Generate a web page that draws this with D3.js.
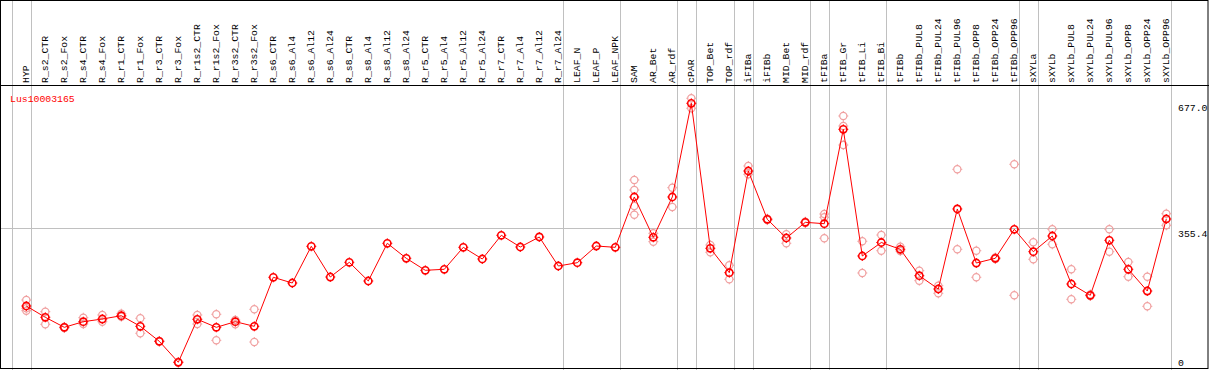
<!DOCTYPE html>
<html>
<head>
<meta charset="utf-8">
<script src="https://cdn.jsdelivr.net/npm/d3@7"></script>
<style>
  body { margin: 0; background: #fff; }
  svg { display: block; }
  text { font-family: "Liberation Mono", "DejaVu Sans Mono", monospace; font-size: 9.8px; }
</style>
</head>
<body>
<svg id="chart" width="1209" height="370"></svg>
<script>
// gene shown
var geneName = "Lus10003165"

// sample names, left to right
var samples = ["HYP", "R_s2_CTR", "R_s2_Fox", "R_s4_CTR", "R_s4_Fox", "R_r1_CTR", "R_r1_Fox",
  "R_r3_CTR", "R_r3_Fox", "R_r1s2_CTR", "R_r1s2_Fox", "R_r3s2_CTR", "R_r3s2_Fox",
  "R_s6_CTR", "R_s6_Al4", "R_s6_Al12", "R_s6_Al24", "R_s8_CTR", "R_s8_Al4", "R_s8_Al12",
  "R_s8_Al24", "R_r5_CTR", "R_r5_Al4", "R_r5_Al12", "R_r5_Al24", "R_r7_CTR", "R_r7_Al4",
  "R_r7_Al12", "R_r7_Al24", "LEAF_N", "LEAF_P", "LEAF_NPK", "SAM", "AR_Bet", "AR_rdf",
  "cPAR", "TOP_Bet", "TOP_rdf", "iFIBa", "iFIBb", "MID_Bet", "MID_rdf", "tFIBa", "tFIB_Gr",
  "tFIB_Li", "tFIB_Bi", "tFIBb", "tFIBb_PUL8", "tFIBb_PUL24", "tFIBb_PUL96", "tFIBb_OPP8",
  "tFIBb_OPP24", "tFIBb_OPP96", "sXYLa", "sXYLb", "sXYLb_PUL8", "sXYLb_PUL24",
  "sXYLb_PUL96", "sXYLb_OPP8", "sXYLb_OPP24", "sXYLb_OPP96"]

// mean expression per sample
var means = [157.2, 128.6, 103.2, 117.4, 124.2, 132.6, 105.7, 67.7, 14.5, 123.5, 103.2,
  117.4, 105.7, 230.0, 215.5, 308.6, 230.7, 268.0, 220.6, 316.2, 278.2, 247.7, 250.3,
  306.0, 276.4, 336.5, 306.8, 332.2, 258.6, 267.0, 309.3, 306.0, 433.6, 331.4, 433.6,
  671.2, 303.5, 241.6, 499.5, 377.0, 329.6, 369.4, 365.9, 605.2, 284.0, 318.2, 301.0,
  234.0, 200.3, 403.2, 266.2, 278.2, 351.7, 294.9, 334.7, 213.0, 184.3, 323.8, 250.3,
  195.2, 377.8]

// replicate values per sample
var replicates = [
  [172.4, 151.4, 145.3], [142.8, 110.8], [104.0, 101.4], [127.5, 111.6], [134.4, 117.4],
  [137.6, 130.1], [126.0, 88.0], [68.5, 67.0], [15.2, 13.7], [134.4, 111.6],
  [136.2, 70.2], [121.7, 110.8], [148.8, 65.9],
  [], [], [], [], [], [], [], [], [], [], [], [], [], [], [], [], [], [], [],
  [476.7, 451.3, 410.8, 388.7], [341.5, 320.3], [457.2, 408.2], [683.9, 658.5],
  [311.9, 293.4], [260.4, 224.9], [512.2, 491.1], [378.5, 375.0], [339.0, 316.2],
  [370.9, 367.7], [390.5, 382.1, 328.9], [639.0, 613.6, 565.4], [321.3, 240.9],
  [337.2, 297.4], [307.6, 296.7], [246.7, 221.4], [208.7, 189.4], [503.8, 301.0],
  [297.4, 230.0], [280.2, 276.4], [516.5, 184.3], [318.7, 275.6], [351.7, 313.7],
  [250.3, 174.2], [186.4, 182.6], [351.7, 294.9], [268.8, 231.5], [231.5, 156.4],
  [391.2, 361.8]]

// last sample of each group (a grey separator follows it)
var groupEnds = ["HYP", "R_r7_Al24", "LEAF_NPK", "AR_rdf", "cPAR", "TOP_rdf", "iFIBa",
  "MID_rdf", "tFIBa", "tFIB_Bi", "tFIBb_OPP96", "sXYLa", "sXYLb_OPP96"]

// right axis labels
var yTicks = [0, 355.4, 677.0]
var yTickLabels = ["0", "355.4", "677.0"]

var W = 1209, H = 370
var headerBottom = 85, plotBottom = 368.5, plotRight = 1170
var red = "#ff0000", pink = "#f0a0a0", grey = "#c0c0c0"

var svg = d3.select("#chart")

var x = d3.scalePoint().domain(samples).range([26.3, 1166.3])
var y = d3.scaleLinear().domain([0, 677]).range([368, 101])
var step = x.step()

// grey separators, including one before the first sample
var sepX = [x(samples[0]) - step + 4.5].concat(groupEnds.map(function(s) { return x(s) + 4.5 }))
svg.selectAll(".sep")
  .data(sepX)
  .enter().append("line")
  .attr("class", "sep")
  .attr("x1", function(d) { return Math.round(d) + 0.5 })
  .attr("x2", function(d) { return Math.round(d) + 0.5 })
  .attr("y1", 0).attr("y2", H)
  .attr("stroke", grey)

// horizontal grid at the middle tick
svg.append("line")
  .attr("x1", 0).attr("x2", plotRight)
  .attr("y1", Math.round(y(yTicks[1])) + 0.5).attr("y2", Math.round(y(yTicks[1])) + 0.5)
  .attr("stroke", grey)

// column labels in header
svg.selectAll(".collabel")
  .data(samples)
  .enter().append("text")
  .attr("class", "collabel")
  .attr("transform", function(d) { return "translate(" + (Math.round(x(d)) + 3) + ",83) rotate(-90)" })
  .attr("fill", "#000")
  .text(function(d) { return d })

// gene name
svg.append("text")
  .attr("x", 10).attr("y", 102)
  .attr("fill", red)
  .text(geneName)

// right axis labels
svg.selectAll(".ylab")
  .data(yTicks)
  .enter().append("text")
  .attr("class", "ylab")
  .attr("x", 1178)
  .attr("y", function(d) { return Math.min(y(d) + 9.5, 366) })
  .attr("fill", "#000")
  .text(function(d, i) { return yTickLabels[i] })

function marker(g, cx, cy, color, sw) {
  g.append("circle")
    .attr("cx", cx).attr("cy", cy).attr("r", 3.6)
    .attr("fill", "none").attr("stroke", color).attr("stroke-width", sw)
  // small ticks around the ring
  var ticks = [[0, -1], [0, 1], [-1, 0], [1, 0]]
  ticks.forEach(function(t) {
    g.append("line")
      .attr("x1", cx + t[0] * 3.6).attr("y1", cy + t[1] * 3.6)
      .attr("x2", cx + t[0] * 5).attr("y2", cy + t[1] * 5)
      .attr("stroke", color).attr("stroke-width", 1)
  })
}

// replicate points
var repLayer = svg.append("g")
samples.forEach(function(s, i) {
  replicates[i].forEach(function(v) {
    marker(repLayer, x(s), y(v), pink, 1.2)
  })
})

// mean line
var line = d3.line()
  .x(function(d, i) { return x(samples[i]) })
  .y(function(d) { return y(d) })

svg.append("path")
  .datum(means)
  .attr("d", line)
  .attr("fill", "none")
  .attr("stroke", red)
  .attr("stroke-width", 1)

// mean markers
var meanLayer = svg.append("g")
means.forEach(function(v, i) {
  marker(meanLayer, x(samples[i]), y(v), red, 1.6)
})

// frame
svg.append("rect")
  .attr("x", 0.5).attr("y", 0.5)
  .attr("width", W - 1.5).attr("height", plotBottom - 0.5)
  .attr("fill", "none").attr("stroke", "#000")
svg.append("line")
  .attr("x1", 0).attr("x2", W)
  .attr("y1", headerBottom + 0.5).attr("y2", headerBottom + 0.5)
  .attr("stroke", "#000")
</script>
</body>
</html>
